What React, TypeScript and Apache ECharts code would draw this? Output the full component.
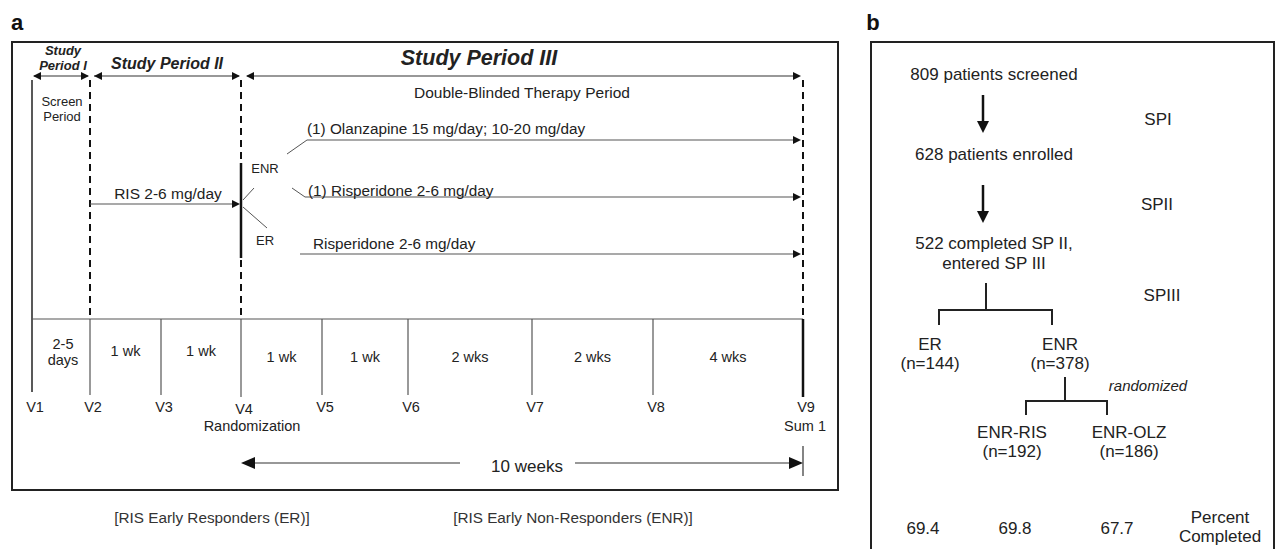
import React, { useEffect, useRef } from "react";
import * as echarts from "echarts";

// ---- data ----
const visits = ["V1", "V2", "V3", "V4", "V5", "V6", "V7", "V8", "V9"];
const visitSubLabels = ["", "", "", "Randomization", "", "", "", "", "Sum 1"];
const intervals = ["2-5\ndays", "1 wk", "1 wk", "1 wk", "1 wk", "2 wks", "2 wks", "4 wks"];
const periods = ["Study\nPeriod I", "Study Period II", "Study Period III"];
const treatments = [
  "(1) Olanzapine 15 mg/day; 10-20 mg/day",
  "(1) Risperidone 2-6 mg/day",
  "Risperidone 2-6 mg/day",
];
const groupsFooter = ["[RIS Early Responders (ER)]", "[RIS Early Non-Responders (ENR)]"];
const flowSteps = ["809 patients screened", "628 patients enrolled", "522 completed SP II,\nentered SP III"];
const flowPeriods = ["SPI", "SPII", "SPIII"];
const armNames = ["ER", "ENR", "ENR-RIS", "ENR-OLZ"];
const armCounts = [144, 378, 192, 186];
const percentCompleted = [69.4, 69.8, 67.7];

const FONT = "Liberation Sans, Arial, sans-serif";
const TXT = "#222";
const LN = "#555";
const FA = 15; // panel a text size
const FB = 17; // panel b text size

function text(t: string, x: number, y: number, o: any = {}) {
  return {
    type: "text",
    x,
    y,
    silent: true,
    style: {
      text: t,
      fill: o.fill || TXT,
      fontFamily: FONT,
      fontSize: o.size || FA,
      fontWeight: o.weight || "normal",
      fontStyle: o.style || "normal",
      align: o.align || "center",
      verticalAlign: "middle",
      lineHeight: o.lh || undefined,
    },
  };
}
function line(x1: number, y1: number, x2: number, y2: number, o: any = {}) {
  return {
    type: "line",
    silent: true,
    shape: { x1, y1, x2, y2 },
    style: { stroke: o.stroke || LN, lineWidth: o.w || 1, lineDash: o.dash || null },
  };
}
function poly(points: number[][], o: any = {}) {
  return { type: "polyline", silent: true, shape: { points }, style: { stroke: o.stroke || "#222", lineWidth: o.w || 1.5, fill: "none" } };
}
function headR(x: number, y: number, l = 8, h = 4) {
  return { type: "polygon", silent: true, shape: { points: [[x, y], [x - l, y - h], [x - l, y + h]] }, style: { fill: "#111" } };
}
function headL(x: number, y: number, l = 8, h = 4) {
  return { type: "polygon", silent: true, shape: { points: [[x, y], [x + l, y - h], [x + l, y + h]] }, style: { fill: "#111" } };
}
function headD(x: number, y: number, l = 12, h = 6) {
  return { type: "polygon", silent: true, shape: { points: [[x, y], [x - h, y - l], [x + h, y - l]] }, style: { fill: "#111" } };
}

function buildElements() {
  const els: any[] = [];
  // layout (pixels)
  const vx = [32, 90, 161, 241, 322, 408, 532, 653, 803];
  const axisY = 319;
  const arrowY = 76;

  // panel a
  els.push(text("a", 17, 22, { size: 22, weight: "bold", fill: "#111" }));
  els.push({ type: "rect", silent: true, shape: { x: 12, y: 42, width: 826, height: 448 }, style: { fill: "none", stroke: "#222", lineWidth: 2 } });

  // period titles
  els.push(text(periods[0], 63, 57.5, { size: 13, weight: "bold", style: "italic", lh: 15 }));
  els.push(text(periods[1], 167, 63, { size: 16, weight: "bold", style: "italic" }));
  els.push(text(periods[2], 479, 58, { size: 21.5, weight: "bold", style: "italic" }));

  // period arrows
  els.push(line(vx[0] + 2, arrowY, vx[1] - 2, arrowY, { stroke: "#333", w: 1.2 }));
  els.push(headL(vx[0] + 1, arrowY), headR(vx[1] - 1, arrowY));
  els.push(line(vx[1] + 4, arrowY, vx[3] - 2, arrowY, { stroke: "#333", w: 1.2 }));
  els.push(headL(vx[1] + 4, arrowY), headR(vx[3] - 1, arrowY));
  els.push(line(vx[3] + 6, arrowY, vx[8] - 4, arrowY, { stroke: "#333", w: 1.2 }));
  els.push(headL(vx[3] + 5, arrowY), headR(vx[8] - 2, arrowY));

  els.push(text("Screen\nPeriod", 62, 108.5, { size: 13, lh: 15 }));
  els.push(text("Double-Blinded Therapy Period", 522, 92, { size: 15.5 }));

  // vertical lines
  els.push(line(vx[0], 80, vx[0], 392, { stroke: "#222", w: 1.5 }));
  [1, 3, 8].forEach((i) => {
    els.push(line(vx[i], 80, vx[i], axisY, { stroke: "#111", w: 2, dash: [7, 5] }));
  });
  els.push(line(vx[3], 163, vx[3], 258, { stroke: "#111", w: 2.5 }));
  // timeline axis
  els.push(line(vx[0], axisY, vx[8], axisY, { stroke: LN, w: 1.2 }));
  for (let i = 1; i < visits.length; i++) {
    const bottom = i === 3 || i === 8 ? 397 : 395;
    els.push(line(vx[i], axisY, vx[i], bottom, { stroke: i === 8 ? "#111" : LN, w: i === 8 ? 2.5 : 1.2 }));
  }
  // visit labels
  visits.forEach((v, i) => {
    const y = i === 3 ? 409 : 407;
    els.push(text(v, vx[i] + 3, y, { size: 14.5 }));
    if (visitSubLabels[i]) els.push(text(visitSubLabels[i], i === 3 ? 252 : vx[i] + 2, 426, { size: 14.5 }));
  });
  // interval labels
  intervals.forEach((t, i) => {
    const cx = i === 0 ? 63 : (vx[i] + vx[i + 1]) / 2;
    const y = i < 3 ? 351 : 357;
    els.push(text(t, cx, i === 0 ? 352 : y, { size: 14.5, lh: 16 }));
  });

  // RIS 2-6 mg/day SPII arrow
  els.push(text("RIS 2-6 mg/day", 168, 193, { size: 15.5 }));
  els.push(line(vx[1], 204, vx[3] - 4, 204, { stroke: LN, w: 1.2 }));
  els.push(headR(vx[3] - 1, 204));

  // branches
  els.push(text("ENR", 265, 168, { size: 13 }));
  els.push(text("ER", 265, 240, { size: 13 }));
  els.push(line(243, 200, 254, 188, { stroke: LN, w: 1 }));
  els.push(line(243, 207, 267, 228, { stroke: LN, w: 1 }));

  const tY = [140, 197, 254];
  // olanzapine
  els.push(line(287, 154, 307, 140, { stroke: LN, w: 1 }));
  els.push(line(307, tY[0], vx[8] - 5, tY[0], { stroke: LN, w: 1.2 }));
  els.push(headR(vx[8] - 2, tY[0]));
  els.push(text(treatments[0], 307, 128, { size: 15.3, align: "left" }));
  // risperidone ENR
  els.push(line(292, 188, 305, 197, { stroke: LN, w: 1 }));
  els.push(line(305, tY[1], vx[8] - 5, tY[1], { stroke: LN, w: 1.2 }));
  els.push(headR(vx[8] - 2, tY[1]));
  els.push(text(treatments[1], 308, 190, { size: 15.3, align: "left" }));
  // risperidone ER
  els.push(line(300, tY[2], vx[8] - 5, tY[2], { stroke: LN, w: 1.2 }));
  els.push(headR(vx[8] - 2, tY[2]));
  els.push(text(treatments[2], 313, 243, { size: 15.3, align: "left" }));

  // 10 weeks
  els.push(line(vx[3] + 12, 463, 460, 463, { stroke: "#333", w: 1.2 }));
  els.push(line(575, 463, vx[8] - 12, 463, { stroke: "#333", w: 1.2 }));
  els.push(headL(vx[3], 463, 14, 6), headR(vx[8], 463, 14, 6));
  els.push(line(vx[8], 446, vx[8], 476, { stroke: "#333", w: 1.2 }));
  els.push(text("10 weeks", 527, 466, { size: 17 }));

  els.push(text(groupsFooter[0], 212, 517, { size: 15.3, fill: "#333" }));
  els.push(text(groupsFooter[1], 573, 517, { size: 15.3, fill: "#333" }));

  // panel b
  els.push(text("b", 873, 22, { size: 22, weight: "bold", fill: "#111" }));
  els.push({ type: "rect", silent: true, shape: { x: 871, y: 42, width: 403, height: 530 }, style: { fill: "none", stroke: "#222", lineWidth: 2 } });
  const bx = 994;
  els.push(text(flowSteps[0], bx, 74, { size: FB }));
  els.push(line(983, 95, 983, 121, { stroke: "#111", w: 2.5 }));
  els.push(headD(983, 133));
  els.push(text(flowSteps[1], bx, 154, { size: FB }));
  els.push(line(983, 185, 983, 211, { stroke: "#111", w: 2.5 }));
  els.push(headD(983, 223));
  els.push(text(flowSteps[2], bx, 253, { size: FB, lh: 20 }));
  els.push(text(flowPeriods[0], 1158, 119, { size: FB }));
  els.push(text(flowPeriods[1], 1157, 204, { size: FB }));
  els.push(text(flowPeriods[2], 1162, 295, { size: FB }));

  els.push(line(986, 283, 986, 310, { stroke: "#222", w: 2 }));
  els.push(poly([[939, 325], [939, 310], [1052, 310], [1052, 325]], { w: 2 }));
  const armX = [930, 1060, 1012, 1129];
  const armY = [344, 344, 432, 432];
  armNames.forEach((n, i) => {
    els.push(text(n + "\n(n=" + armCounts[i] + ")", armX[i], armY[i] + 9.5, { size: FB, lh: 19 }));
  });
  els.push(line(1065, 377, 1065, 401, { stroke: "#222", w: 2 }));
  els.push(poly([[1026, 415], [1026, 401], [1107, 401], [1107, 415]], { w: 2 }));
  els.push(text("randomized", 1148, 385, { size: 15, style: "italic" }));

  const pctX = [923, 1015, 1117];
  percentCompleted.forEach((p, i) => els.push(text(p.toFixed(1), pctX[i], 528, { size: FB })));
  els.push(text("Percent\nCompleted", 1220, 527, { size: FB, lh: 19 }));
  return els;
}

export default function App() {
  const ref = useRef<HTMLDivElement>(null);
  useEffect(() => {
    document.body.style.margin = "0";
    const chart = echarts.init(ref.current!, null, { renderer: "svg" });
    chart.setOption({
      animation: false,
      backgroundColor: "#fff",
      graphic: { elements: buildElements() },
    });
    return () => chart.dispose();
  }, []);
  return <div ref={ref} style={{ width: 1276, height: 549 }} />;
}
